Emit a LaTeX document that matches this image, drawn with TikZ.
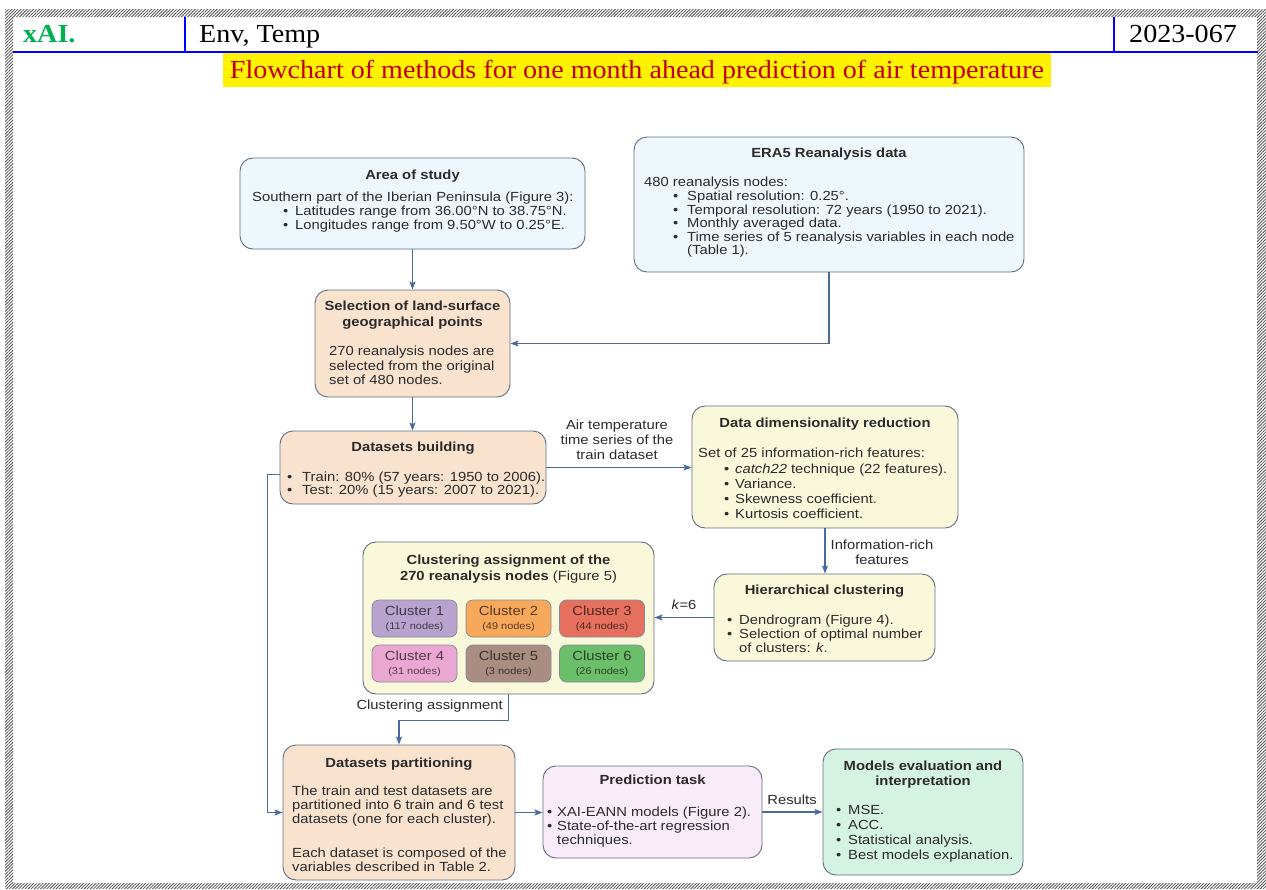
\documentclass[tikz,border=0pt]{standalone}
\usepackage{fontspec}
\setmainfont{Liberation Serif}
\newfontfamily\boxfont[FakeStretch=1.12]{Liberation Sans}
\newfontfamily\hdrfont[FakeStretch=1.08]{Liberation Serif}
\usetikzlibrary{arrows.meta,patterns.meta}
\setlength{\parindent}{0pt}

% palette
\definecolor{ink}{HTML}{2B2B2B}
\definecolor{edge}{HTML}{5F6F80}
\definecolor{wire}{HTML}{4A6A9C}
\definecolor{fblue}{HTML}{EEF7FB}
\definecolor{fpeach}{HTML}{F9E3CF}
\definecolor{fyellow}{HTML}{FAF8DB}
\definecolor{fpink}{HTML}{F8ECF8}
\definecolor{fgreen}{HTML}{D5F3E2}
\definecolor{cA}{HTML}{B8A3CF}
\definecolor{cB}{HTML}{F8A85A}
\definecolor{cC}{HTML}{E6705F}
\definecolor{cD}{HTML}{EAA7D2}
\definecolor{cE}{HTML}{A98D80}
\definecolor{cF}{HTML}{6DBE6B}
\definecolor{hblue}{HTML}{0000FF}
\definecolor{xgreen}{HTML}{00B050}
\definecolor{ttlred}{HTML}{C00000}

% helpers for box text
\newcommand\tpstrut{\rule{0pt}{9.8pt}}
\newcommand\bulitem[2]{\hspace*{#1}\makebox[#2][l]{\textbullet}}

\tikzset{
  box/.style={draw=edge, line width=0.9pt, rounded corners=13pt, inner sep=0pt},
  head/.style={anchor=north, inner sep=0pt, align=center, text=ink,
    font=\boxfont\bfseries\fontsize{13.2}{#1}\selectfont},
  head/.default=15.5,
  body/.style={anchor=north west, inner sep=0pt, align=left, text=ink,
    font=\boxfont\fontsize{13.2}{#1}\selectfont},
  body/.default=14,
  lab/.style={inner sep=0pt, align=center, text=ink,
    font=\boxfont\fontsize{13.2}{14.8}\selectfont},
  cluster/.style={draw=edge!80, line width=0.7pt, rounded corners=7pt, inner sep=0pt,
    minimum width=85pt, minimum height=37pt, align=center,
    fill=#1, text=#1!35!black, font=\boxfont\fontsize{13.2}{15}\selectfont},
  wire/.style={draw=wire, line width=1.3pt, -{Stealth[length=8pt,width=6pt,inset=1.5pt]}},
  hdr/.style={anchor=base west, inner sep=0pt, font=\hdrfont\fontsize{26}{30}\selectfont},
}

\begin{document}
\begin{tikzpicture}[x=1pt,y=-1pt]
\useasboundingbox (0,0) rectangle (1266,889);
\fill[white] (0,0) rectangle (1266,889);

% hatched page frame
\fill[pattern={Lines[angle=45,distance=2.2pt,line width=0.8pt]}, pattern color=gray!65!black, even odd rule]
  (5,9) rectangle (1266,889) (13,17) rectangle (1257,883);

% header row
\draw[hblue, line width=2pt] (13,52) -- (1258,52);
\draw[hblue, line width=2pt] (185,17) -- (185,52);
\draw[hblue, line width=2pt] (1114,17) -- (1114,52);
\node[hdr, text=xgreen, font=\hdrfont\bfseries\fontsize{26}{30}\selectfont] (brand) at (23,42.5) {xAI.};
\node[hdr, text=black] (topic) at (199,42.5) {Env, Temp};
\node[hdr, text=black] (code) at (1129,42.5) {2023-067};

% title
\node[anchor=base, fill=yellow, inner sep=0pt, text height=25.5pt, text depth=8.5pt,
  minimum width=828pt, text=ttlred, font=\hdrfont\fontsize{26}{30}\selectfont]
  (ttl) at (637,78) {Flowchart of methods for one month ahead prediction of air temperature};

% ---------- boxes ----------
% Area of study
\node[box, fill=fblue, minimum width=345pt, minimum height=91pt] (area) at (412.5,203.5) {};
\node[head] (areaT) at (412.5,169.8) {\tpstrut Area of study};
\node[body=13.8] (areaB) at (252,191.8) {\tpstrut Southern part of the Iberian Peninsula (Figure 3):\\
  \bulitem{31pt}{12pt}Latitudes range from 36.00°N to 38.75°N.\\
  \bulitem{31pt}{12pt}Longitudes range from 9.50°W to 0.25°E.};

% ERA5
\node[box, fill=fblue, minimum width=390pt, minimum height=135pt] (era) at (829,204.5) {};
\node[head] (eraT) at (829,147.8) {\tpstrut ERA5 Reanalysis data};
\node[body=13.6] (eraB) at (644,176.8) {\tpstrut 480 reanalysis nodes:\\
  \bulitem{29pt}{14pt}Spatial resolution: 0.25°.\\
  \bulitem{29pt}{14pt}Temporal resolution: 72 years (1950 to 2021).\\
  \bulitem{29pt}{14pt}Monthly averaged data.\\
  \bulitem{29pt}{14pt}Time series of 5 reanalysis variables in each node\\
  \hspace*{43pt}(Table 1).};

% Selection of land-surface points
\node[box, fill=fpeach, minimum width=195pt, minimum height=107pt] (sel) at (412.5,343.5) {};
\node[head] (selT) at (412.5,300.8) {\tpstrut Selection of land-surface\\geographical points};
\node[body=14.5] (selB) at (329,345.8) {\tpstrut 270 reanalysis nodes are\\selected from the original\\set of 480 nodes.};

% Datasets building
\node[box, fill=fpeach, minimum width=266pt, minimum height=73pt] (dbuild) at (413,467.5) {};
\node[head] (dbuildT) at (413,441.8) {\tpstrut Datasets building};
\node[body=13] (dbuildB) at (287,471.8) {\tpstrut\bulitem{0pt}{15pt}Train: 80\% (57 years: 1950 to 2006).\\
  \bulitem{0pt}{15pt}Test: 20\% (15 years: 2007 to 2021).};

% Data dimensionality reduction
\node[box, fill=fyellow, minimum width=266pt, minimum height=122pt] (ddim) at (825,467) {};
\node[head] (ddimT) at (825,417.8) {\tpstrut Data dimensionality reduction};
\node[body=15.2] (ddimB) at (698,447.8) {\tpstrut Set of 25 information-rich features:\\
  \bulitem{26pt}{11pt}\textit{catch22} technique (22 features).\\
  \bulitem{26pt}{11pt}Variance.\\
  \bulitem{26pt}{11pt}Skewness coefficient.\\
  \bulitem{26pt}{11pt}Kurtosis coefficient.};

% Hierarchical clustering
\node[box, fill=fyellow, minimum width=221pt, minimum height=87pt] (hier) at (824.5,617.5) {};
\node[head] (hierT) at (824.5,584.8) {\tpstrut Hierarchical clustering};
\node[body=14] (hierB) at (727,614.8) {\tpstrut\bulitem{0pt}{12pt}Dendrogram (Figure 4).\\
  \bulitem{0pt}{12pt}Selection of optimal number\\
  \hspace*{12pt}of clusters: \textit{k}.};

% Clustering assignment
\node[box, fill=fyellow, minimum width=291pt, minimum height=152pt] (clus) at (508.5,618) {};
\node[head] (clusT) at (508.5,554.8) {\tpstrut Clustering assignment of the\\270 reanalysis nodes {\mdseries (Figure 5)}};
\node[cluster=cA] (k1) at (414.5,618.5) {Cluster 1\\[-1pt]{\fontsize{9.8}{11}\selectfont(117 nodes)}};
\node[cluster=cB] (k2) at (508.5,618.5) {Cluster 2\\[-1pt]{\fontsize{9.8}{11}\selectfont(49 nodes)}};
\node[cluster=cC] (k3) at (602,618.5) {Cluster 3\\[-1pt]{\fontsize{9.8}{11}\selectfont(44 nodes)}};
\node[cluster=cD] (k4) at (414.5,663.5) {Cluster 4\\[-1pt]{\fontsize{9.8}{11}\selectfont(31 nodes)}};
\node[cluster=cE] (k5) at (508.5,663.5) {Cluster 5\\[-1pt]{\fontsize{9.8}{11}\selectfont(3 nodes)}};
\node[cluster=cF] (k6) at (602,663.5) {Cluster 6\\[-1pt]{\fontsize{9.8}{11}\selectfont(26 nodes)}};

% Datasets partitioning
\node[box, fill=fpeach, minimum width=232pt, minimum height=135pt] (part) at (399,812.5) {};
\node[head] (partT) at (399,757.8) {\tpstrut Datasets partitioning};
\node[body=14] (partB) at (292,785.8) {\tpstrut The train and test datasets are\\
  partitioned into 6 train and 6 test\\
  datasets (one for each cluster).\\[20pt]
  Each dataset is composed of the\\
  variables described in Table 2.};

% Prediction task
\node[box, fill=fpink, minimum width=219pt, minimum height=92pt] (pred) at (652.5,812) {};
\node[head] (predT) at (652.5,774.8) {\tpstrut Prediction task};
\node[body=14] (predB) at (547,806.8) {\tpstrut\bulitem{0pt}{10pt}XAI-EANN models (Figure 2).\\
  \bulitem{0pt}{10pt}State-of-the-art regression\\
  \hspace*{10pt}techniques.};

% Models evaluation and interpretation
\node[box, fill=fgreen, minimum width=200pt, minimum height=126pt] (models) at (923,812) {};
\node[head=15] (modelsT) at (923,760.8) {\tpstrut Models evaluation and\\interpretation};
\node[body=15] (modelsB) at (836,804.8) {\tpstrut\bulitem{0pt}{12pt}MSE.\\
  \bulitem{0pt}{12pt}ACC.\\
  \bulitem{0pt}{12pt}Statistical analysis.\\
  \bulitem{0pt}{12pt}Best models explanation.};

% ---------- connectors ----------
\draw[wire] (area.south) -- (sel.north);
\draw[wire] (era.south) |- (sel.east);
\draw[wire] (sel.south) -- (sel.south |- dbuild.north);
\draw[wire] (dbuild.east) -- (dbuild.east -| ddim.west);
\draw[wire] (ddim.south) -- (ddim.south |- hier.north);
\draw[wire] (hier.west) -- (hier.west -| clus.east);
\draw[wire] (clus.south) -- ++(0,26) -| (part.north);
\draw[wire] ([yshift=-7pt]dbuild.west) -- ++(-12,0) |- (part.west);
\draw[wire] (part.east) -- (part.east -| pred.west);
\draw[wire] (pred.east) -- (pred.east -| models.west);

% connector labels
\node[lab] (labAir) at (617,439.5) {Air temperature\\time series of the\\train dataset};
\node[lab] (labInfo) at (882,552) {Information-rich\\features};
\node[lab] (labK) at (684,605) {\textit{k}=6};
\node[lab, anchor=east] (labAssign) at (503,706) {Clustering assignment};
\node[lab] (labRes) at (792,800) {Results};
\end{tikzpicture}
\end{document}
